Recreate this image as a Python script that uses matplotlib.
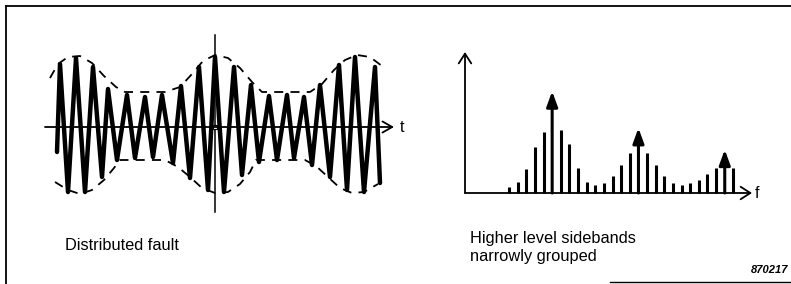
import matplotlib.pyplot as plt
import numpy as np

plt.rcParams['font.family'] = ['Liberation Sans', 'DejaVu Sans']

# --- left panel: modulated waveform (t relative to origin, amplitude up) ---
top_t = [-155, -139, -122, -107, -88, -70, -53, -34, -16, 0, 19, 36, 54, 72, 89, 105, 124, 140, 160]
top_a = [63, 69, 60, 38, 32, 30, 32, 41, 60, 70, 60, 42, 31, 32, 30, 42, 62, 70, 60]
bot_t = [-147, -130, -113, -98, -80, -62, -42, -25, -7, 9, 27, 44, 62, 79, 97, 115, 132, 149, 165]
bot_a = [-65, -65, -50, -33, -31, -30, -36, -51, -63, -65, -48, -35, -33, -31, -38, -50, -63, -65, -56]
start_t, start_a = -158, -25

# dashed envelope
env_top_t = [-165, -157, -147, -135, -123, -111, -99, -90, -50, -35, -23, -12, 0, 13, 25, 37, 47, 95, 107, 119, 130, 142, 155, 167]
env_top_a = [49, 63, 70, 71, 64, 51, 40, 35, 35, 40, 53, 66, 72, 69, 59, 45, 35, 35, 43, 57, 67, 72, 70, 61]
env_bot_t = [-160, -147, -135, -123, -111, -101, -95, -50, -37, -25, -13, 0, 13, 25, 35, 41, 90, 101, 113, 125, 137, 149, 163]
env_bot_a = [-55, -63, -67, -63, -53, -41, -33, -33, -40, -50, -61, -66, -65, -57, -45, -33, -33, -39, -50, -61, -66, -65, -57]

# --- right panel: spectrum lines ---
line_heights = [6.3, 11.3, 23.7, 46.3, 61.3, 101.7, 63, 49, 25.3, 10.7, 7.7, 10, 17.3, 28.3,
                40, 65, 39.7, 28.3, 17.3, 10, 7.7, 9.7, 13.3, 19, 25.3, 43.3, 24.7]
carrier_idx = [5, 15, 25]

label_left = "Distributed fault"
label_right = ["Higher level sidebands", "narrowly grouped"]
fig_code = "870217"

W, H = 791, 284
fig = plt.figure(figsize=(W / 100, H / 100), dpi=100)


def px_axes(x0, y0, x1, y1):
    a = fig.add_axes([x0 / W, 1 - y1 / H, (x1 - x0) / W, (y1 - y0) / H])
    a.set_axis_off()
    return a


# overlay for border and text
ov = px_axes(0, 0, W, H)
ov.set_xlim(0, W)
ov.set_ylim(H, 0)
ov.plot([6, 6], [6, 284], color='black', lw=1.3)
ov.plot([6, 791], [5.5, 5.5], color='black', lw=1.3)
ov.plot([610, 791], [282, 282], color='black', lw=1.0)
ov.text(65, 246, label_left, fontsize=11.8, va='center', ha='left')
ov.text(470, 238, label_right[0], fontsize=11.8, va='center', ha='left')
ov.text(470, 257, label_right[1], fontsize=11.8, va='center', ha='left')
ov.text(788, 270, fig_code, fontsize=8, style='italic', weight='bold', va='center', ha='right')
ov.text(400, 128, "t", fontsize=11.5, va='center', ha='left')
ov.text(755, 194, "f", fontsize=11.5, va='center', ha='left')

# left panel: 1 data unit = 1 px, origin at (215,127)
axl = px_axes(30, 25, 410, 220)
axl.set_xlim(30 - 215, 410 - 215)
axl.set_ylim(127 - 220, 127 - 25)

wt = [start_t]
wa = [start_a]
for i in range(len(top_t)):
    wt += [top_t[i], bot_t[i]]
    wa += [top_a[i], bot_a[i]]
axl.plot(wt, wa, color='black', lw=3.2, solid_joinstyle='round', solid_capstyle='round')
axl.plot(env_top_t, env_top_a, color='black', lw=1.3, ls=(0, (5, 4)))
axl.plot(env_bot_t, env_bot_a, color='black', lw=1.3, ls=(0, (5, 4)))

axl.annotate('', xy=(394 - 215, 0), xytext=(45 - 215, 0),
             arrowprops=dict(arrowstyle='->,head_length=0.7,head_width=0.4', lw=1.3,
                             color='black', shrinkA=0, shrinkB=0, mutation_scale=10))
axl.plot([0, 0], [127 - 212, 127 - 35], color='black', lw=1.1)
axl.plot([0], [0], marker='s', ms=3.5, mfc='white', mec='black', mew=0.8)

# right panel: x = line index, y = level (px)
x0px, dx = 509, 8.63
axr = px_axes(455, 40, 770, 205)
axr.set_xlim((455 - x0px) / dx, (770 - x0px) / dx)
axr.set_ylim(193 - 205, 193 - 40)

k = np.arange(len(line_heights))
h = np.array(line_heights)
side = np.array([i not in carrier_idx for i in k])
axr.vlines(k[side], 0, h[side], color='black', lw=2.2)
for i in carrier_idx:
    axr.annotate('', xy=(k[i], h[i]), xytext=(k[i], 0),
                 arrowprops=dict(arrowstyle='-|>,head_length=0.9,head_width=0.33', lw=2.2,
                                 color='black', shrinkA=0, shrinkB=0, mutation_scale=10))

ax_x0 = (465 - x0px) / dx
axr.annotate('', xy=(ax_x0, 193 - 52), xytext=(ax_x0, 0),
             arrowprops=dict(arrowstyle='->,head_length=0.7,head_width=0.45', lw=1.3,
                             color='black', shrinkA=0, shrinkB=0, mutation_scale=10))
axr.annotate('', xy=((752 - x0px) / dx, 0), xytext=(ax_x0, 0),
             arrowprops=dict(arrowstyle='->,head_length=0.7,head_width=0.45', lw=1.3,
                             color='black', shrinkA=0, shrinkB=0, mutation_scale=10))

fig.savefig('out.png', dpi=100)
